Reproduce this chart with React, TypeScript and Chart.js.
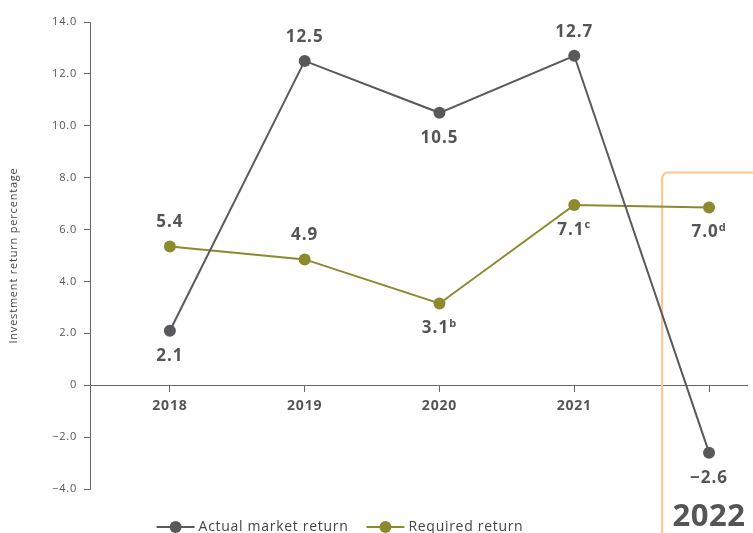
import React, { useEffect, useRef } from "react";
import { Chart, registerables } from "chart.js";

Chart.register(...registerables);

// ---- data ----
const years = [2018, 2019, 2020, 2021, 2022];
const yearTickLabels = ["2018", "2019", "2020", "2021", ""];
const actualReturn = [2.1, 12.5, 10.5, 12.7, -2.6];
const requiredReturn = [5.35, 4.85, 3.15, 6.95, 6.85];
const actualLabels = ["2.1", "12.5", "10.5", "12.7", "\u22122.6"];
const requiredLabels = ["5.4", "4.9", "3.1", "7.1", "7.0"];
const requiredNotes = ["", "", "b", "c", "d"];
const actualLabelSide = ["below", "above", "below", "above", "below"];
const requiredLabelSide = ["above", "above", "below", "below", "below"];
const seriesNames = ["Actual market return", "Required return"];
const yAxisTitle = "Investment return percentage";
const highlightYear = "2022";

const ACTUAL_COLOR = "#59595b";
const REQUIRED_COLOR = "#8b8a2e";
const TEXT_COLOR = "#555555";
const AXIS_COLOR = "#666666";
const BOX_COLOR = "#fcc48a";
const FONT = "'Open Sans', 'Noto Sans', sans-serif";

const fmtTick = (v: number) => {
  if (v === 0) return "0";
  return (v < 0 ? "\u2212" : "") + Math.abs(v).toFixed(1);
};

const overlayPlugin = {
  id: "overlay",
  beforeDraw(chart: any) {
    (chart.ctx as any).letterSpacing = "0.8px";
  },
  beforeDatasetsDraw(chart: any) {
    const { ctx } = chart;
    const xs = chart.scales.x;
    const ys = chart.scales.y;
    const left = xs.getPixelForValue(2021.652);
    const top = ys.getPixelForValue(8.2);
    const bottom = chart.height + 5;
    const r = 6;
    ctx.save();
    ctx.strokeStyle = BOX_COLOR;
    ctx.lineWidth = 2;
    ctx.beginPath();
    ctx.moveTo(left, bottom);
    ctx.lineTo(left, top + r);
    ctx.arcTo(left, top, left + r, top, r);
    ctx.lineTo(chart.width + 5, top);
    ctx.stroke();
    ctx.restore();
  },
  afterDatasetsDraw(chart: any) {
    const { ctx } = chart;
    const xs = chart.scales.x;
    const ys = chart.scales.y;
    ctx.save();
    const drawLabel = (x: number, y: number, main: string, note: string, side: string) => {
      const mainFont = `bold 17px ${FONT}`;
      const noteFont = `bold 11px ${FONT}`;
      (ctx as any).letterSpacing = "1px";
      ctx.font = mainFont;
      const wMain = ctx.measureText(main).width;
      ctx.font = noteFont;
      const wNote = note ? ctx.measureText(note).width : 0;
      const total = wMain + wNote;
      const cy = side === "above" ? y - 24 : y + 25;
      const startX = x - total / 2;
      ctx.fillStyle = TEXT_COLOR;
      ctx.textBaseline = "middle";
      ctx.textAlign = "left";
      ctx.font = mainFont;
      ctx.fillText(main, startX, cy);
      if (note) {
        ctx.font = noteFont;
        ctx.fillText(note, startX + wMain, cy - 5);
      }
    };
    const m0 = chart.getDatasetMeta(0);
    m0.data.forEach((pt: any, i: number) => {
      drawLabel(pt.x, pt.y, actualLabels[i], "", actualLabelSide[i]);
    });
    const m1 = chart.getDatasetMeta(1);
    m1.data.forEach((pt: any, i: number) => {
      drawLabel(pt.x, pt.y, requiredLabels[i], requiredNotes[i], requiredLabelSide[i]);
    });

    // highlighted year in box
    (ctx as any).letterSpacing = "0.5px";
    ctx.font = `bold 31px ${FONT}`;
    ctx.fillStyle = TEXT_COLOR;
    ctx.textAlign = "center";
    ctx.textBaseline = "middle";
    ctx.fillText(highlightYear, xs.getPixelForValue(2022), ys.getPixelForValue(-5.08));

    // legend
    const colors = [ACTUAL_COLOR, REQUIRED_COLOR];
    (ctx as any).letterSpacing = "0.7px";
    ctx.font = `14px ${FONT}`;
    const symW = 38;
    const gap = 4;
    const itemGap = 18;
    const widths = seriesNames.map((n) => symW + gap + ctx.measureText(n).width);
    const totalW = widths.reduce((a, b) => a + b, 0) + itemGap;
    let lx = 340 - totalW / 2;
    const ly = 527;
    seriesNames.forEach((name, i) => {
      ctx.strokeStyle = colors[i];
      ctx.lineWidth = 2;
      ctx.beginPath();
      ctx.moveTo(lx, ly);
      ctx.lineTo(lx + symW, ly);
      ctx.stroke();
      ctx.fillStyle = colors[i];
      ctx.beginPath();
      ctx.arc(lx + symW / 2, ly, 6, 0, Math.PI * 2);
      ctx.fill();
      ctx.fillStyle = "#444444";
      ctx.textAlign = "left";
      ctx.textBaseline = "middle";
      ctx.font = `14px ${FONT}`;
      ctx.fillText(name, lx + symW + gap, ly);
      lx += widths[i] + itemGap;
    });
    ctx.restore();
  },
};

export default function App() {
  const ref = useRef<HTMLCanvasElement | null>(null);
  useEffect(() => {
    if (!ref.current) return;
    const chart = new Chart(ref.current, {
      type: "line",
      data: {
        datasets: [
          {
            label: seriesNames[0],
            data: years.map((y, i) => ({ x: y, y: actualReturn[i] })),
            borderColor: ACTUAL_COLOR,
            backgroundColor: ACTUAL_COLOR,
            borderWidth: 2,
            pointRadius: 6,
            pointBorderWidth: 0,
            pointBackgroundColor: ACTUAL_COLOR,
            tension: 0,
          },
          {
            label: seriesNames[1],
            data: years.map((y, i) => ({ x: y, y: requiredReturn[i] })),
            borderColor: REQUIRED_COLOR,
            backgroundColor: REQUIRED_COLOR,
            borderWidth: 2,
            pointRadius: 6,
            pointBorderWidth: 0,
            pointBackgroundColor: REQUIRED_COLOR,
            tension: 0,
          },
        ],
      },
      options: {
        responsive: false,
        animation: false,
        events: [],
        layout: { padding: { top: 22, bottom: 44, left: 0, right: 1 } },
        plugins: {
          legend: { display: false },
          tooltip: { enabled: false },
        },
        scales: {
          x: {
            type: "linear",
            position: { y: 0 } as any,
            min: 2017.4074,
            max: 2022.2815,
            afterBuildTicks: (scale: any) => {
              scale.ticks = years.map((v) => ({ value: v }));
            },
            ticks: {
              autoSkip: false,
              maxRotation: 0,
              padding: 6,
              color: TEXT_COLOR,
              font: { family: FONT, size: 14, weight: "bold" },
              callback: (v: any, i: number) => yearTickLabels[i],
            },
            grid: {
              drawOnChartArea: false,
              drawTicks: true,
              tickLength: 6,
              color: AXIS_COLOR,
            },
            border: { display: true, color: AXIS_COLOR, width: 1 },
          },
          y: {
            type: "linear",
            position: "left",
            min: -4,
            max: 14,
            afterFit: (scale: any) => {
              scale.width = 90;
            },
            ticks: {
              stepSize: 2,
              padding: 7,
              color: TEXT_COLOR,
              font: { family: FONT, size: 11 },
              callback: (v: any) => fmtTick(Number(v)),
            },
            grid: {
              drawOnChartArea: false,
              drawTicks: true,
              tickLength: 6,
              color: AXIS_COLOR,
            },
            border: { display: true, color: AXIS_COLOR, width: 1 },
            title: {
              display: true,
              text: yAxisTitle,
              color: "#444444",
              font: { family: FONT, size: 11 },
              padding: { top: 7, bottom: 0 },
            },
          },
        },
      },
      plugins: [overlayPlugin],
    });
    return () => chart.destroy();
  }, []);
  return (
    <div style={{ position: "fixed", left: 0, top: 0, width: 753, height: 533, overflow: "hidden", background: "#fff" }}>
      <canvas ref={ref} width={753} height={533} style={{ display: "block" }} />
    </div>
  );
}
